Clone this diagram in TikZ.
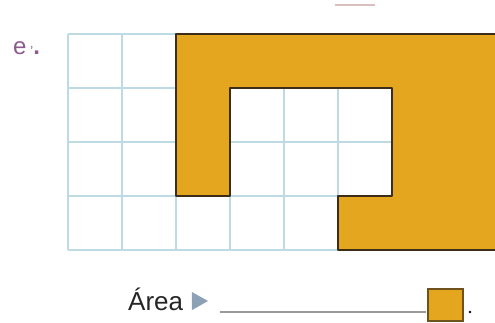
\documentclass[tikz,border=0pt]{standalone}
\usepackage{fontspec}
\setmainfont{Liberation Sans}
\usetikzlibrary{calc}
\definecolor{cellline}{RGB}{190,218,226}
\definecolor{ochre}{RGB}{228,166,30}
\definecolor{edge}{RGB}{60,45,25}
\definecolor{tagpurple}{RGB}{140,90,140}
\definecolor{pointer}{RGB}{140,160,182}
\tikzset{
  cellgrid/.style={cellline, line width=1.2pt},
  shapeedge/.style={edge, line width=1.6pt, line join=round},
  answerline/.style={gray!80, line width=1.5pt},
}

\begin{document}
\begin{tikzpicture}[x=54pt, y=54pt]
\useasboundingbox (-1.259,-1.333) rectangle (7.907,4.630);
%\draw[step=.5cm] (0,0) to[grid with coordinates] (8,4);

%%%%%%%%%%%%%%%%%%%%%%%%%%%%%%%%%%%%%%%%%%%%%%%%%%%%%%%%%%%%%% grid
\coordinate (O) at (0,0);

\draw[cellgrid, step=1] (O) grid (7.95,4);

%%%%%%%%%%%%%%%%%%%%%%%%%%%%%%%%%%%%%%%%%%%%%%%%%%%%%%%%%%%%%% shaded figure
\fill[ochre] ($(O)+(2,4)$) -- ($(O)+(8,4)$) -- ($(O)+(8,0)$) -- ($(O)+(5,0)$) -- ($(O)+(5,1)$)
  -- ($(O)+(6,1)$) -- ($(O)+(6,3)$) -- ($(O)+(3,3)$) -- ($(O)+(3,1)$) -- ($(O)+(2,1)$) -- cycle;
\draw[shapeedge] ($(O)+(8,0)$) -- ($(O)+(5,0)$) -- ($(O)+(5,1)$) -- ($(O)+(6,1)$) -- ($(O)+(6,3)$)
  -- ($(O)+(3,3)$) -- ($(O)+(3,1)$) -- ($(O)+(2,1)$) -- ($(O)+(2,4)$) -- ($(O)+(8,4)$);

%%%%%%%%%%%%%%%%%%%%%%%%%%%%%%%%%%%%%%%%%%%%%%%%%%%%%%%%%%%%%% labels
\node[anchor=base west, inner sep=0pt, text=tagpurple, font=\fontsize{24}{24}\selectfont] (tag) at ($(O)+(-1.02,3.62)$) {e\,{\fontsize{13}{13}\selectfont\raisebox{-1pt}{'}}\textbf{.}};
\draw[red!25!gray!40, line width=2pt] ($(O)+(4.944,4.537)$) -- ($(O)+(5.685,4.537)$);

%%%%%%%%%%%%%%%%%%%%%%%%%%%%%%%%%%%%%%%%%%%%%%%%%%%%%%%%%%%%%% answer
\node[anchor=base west, inner sep=0pt, text=black!85, font=\fontsize{26}{26}\selectfont] (area) at ($(O)+(1.111,-1.111)$) {Área};
\fill[pointer] ($(O)+(2.296,-0.778)$) -- ($(O)+(2.593,-0.944)$) -- ($(O)+(2.296,-1.111)$) -- cycle;
\coordinate (lineA) at ($(O)+(2.815,-1.148)$);
\coordinate (lineB) at ($(O)+(6.630,-1.148)$);
\draw[answerline] (lineA) -- (lineB);
\draw[fill=ochre, draw=edge!70!ochre, line width=1.3pt] ($(O)+(6.667,-0.722)$) rectangle ($(O)+(7.315,-1.315)$);
\fill[black] ($(O)+(7.444,-1.148)$) circle (1.3pt);

\end{tikzpicture}
\end{document}
